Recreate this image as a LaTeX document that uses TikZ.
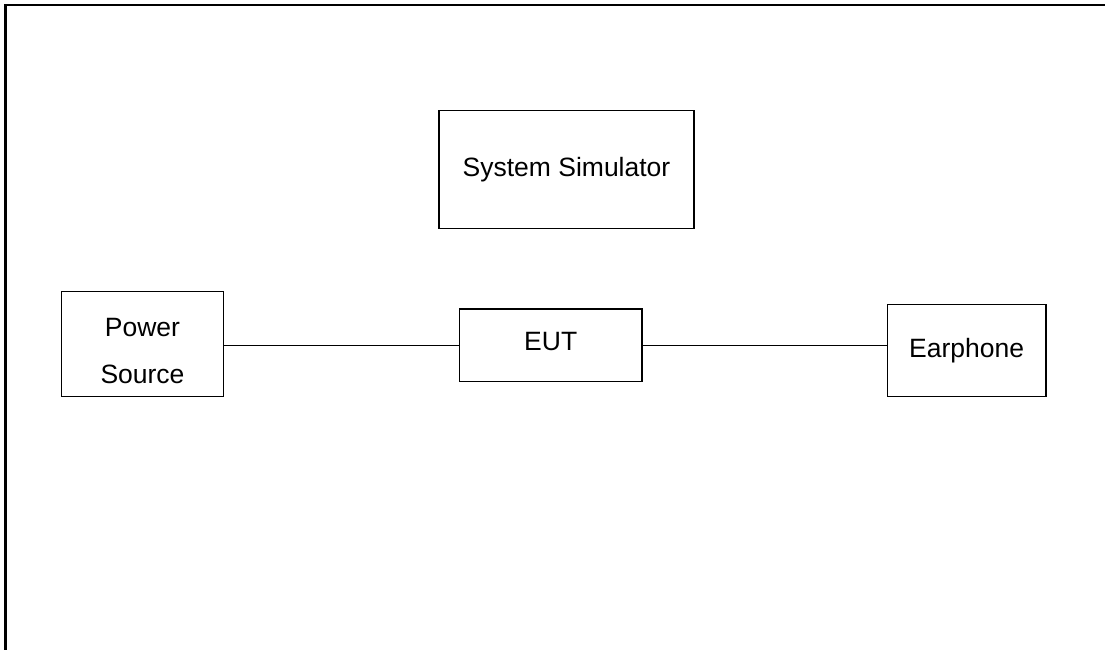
\documentclass[tikz,border=0pt]{standalone}
\usepackage{fontspec}
\setmainfont{Liberation Sans}
\begin{document}
\begin{tikzpicture}[x=0.5pt,y=-0.5pt,
  box/.style={draw=black,line width=0.6pt,rectangle,inner sep=0pt},
  lbl/.style={inner sep=0pt,font=\fontsize{13.25}{15}\selectfont,text height=0.716em,text depth=0pt},
  wire/.style={draw=black,line width=0.6pt},
  frameline/.style={draw=black,line width=1.3pt}]
\useasboundingbox (0,0) rectangle (1105,650);
% frame (top and left edges visible)
\coordinate (ftl) at (5.5,5);
\coordinate (ftr) at (1105,5);
\coordinate (fbl) at (5.5,650);
\draw[frameline] (ftr) -- (ftl) -- (fbl);
% boxes
\node[box,minimum width=127.5pt,minimum height=58.8pt] (sim) at (566.5,169.5) {};
\node[lbl] (simtext) at (sim.center) {System Simulator};
\node[box,minimum width=80.8pt,minimum height=52.5pt] (power) at (142.5,344.2) {};
\node[inner sep=0pt,align=center,font=\fontsize{13.25}{23.5}\selectfont,yshift=-3.5pt] (powertext) at (power.center) {Power\\Source};
\node[box,minimum width=91.3pt,minimum height=36.3pt] (eut) at (550.7,345.3) {};
\node[lbl,yshift=1pt] (euttext) at (eut.center) {EUT};
\node[box,minimum width=79.3pt,minimum height=46.2pt] (ear) at (966.7,350.5) {};
\node[lbl] (eartext) at (ear.center) {Earphone};
% connectors
\draw[wire] (power.east |- eut.west) -- (eut.west);
\draw[wire] (eut.east) -- (eut.east -| ear.west);
\end{tikzpicture}
\end{document}
